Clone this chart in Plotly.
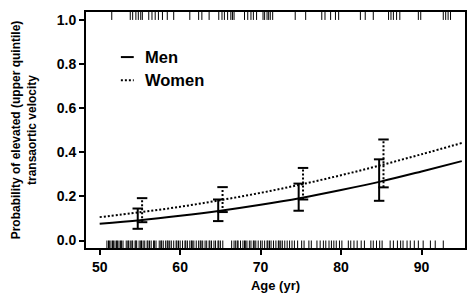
import plotly.graph_objects as go

# ---------------- data ----------------
curve_age = [50, 55, 60, 65, 70, 75, 80, 85, 90, 95]
men_prob = [0.076, 0.092, 0.112, 0.135, 0.162, 0.193, 0.229, 0.268, 0.313, 0.360]
women_prob = [0.106, 0.128, 0.153, 0.183, 0.216, 0.254, 0.296, 0.342, 0.391, 0.442]

group_age = [55, 65, 75, 85]
men_lower = [0.053, 0.088, 0.135, 0.180]
men_upper = [0.145, 0.186, 0.258, 0.368]
women_lower = [0.083, 0.129, 0.186, 0.241]
women_upper = [0.192, 0.242, 0.329, 0.458]

# observed ages with elevated velocity (top rug) / not elevated (bottom rug)
rug_top = [51.5, 53.8, 54.1, 54.5, 54.8, 55.1, 55.3, 56.1, 56.5, 56.9, 57.3, 57.8,
           58.4, 59.2, 61.2, 62.3, 62.7, 63.6, 64.8, 65.2, 65.5, 65.9, 66.3, 66.5,
           66.7, 68.0, 68.4, 68.8, 69.1, 69.5, 70.3, 70.5, 70.8, 71.0, 71.2, 71.5,
           74.3, 75.6, 77.6, 78.0, 78.7, 79.3, 79.7, 82.4, 83.0, 84.0, 85.9, 86.2,
           86.5, 86.9, 87.3, 89.6, 89.9, 92.7, 93.0, 93.3, 93.6]
rug_bottom = [50.9, 51.1, 51.2, 51.4, 51.6, 51.7, 51.9, 52.1, 52.2, 52.4, 52.6, 52.7,
              52.9, 53.3, 53.5, 53.6, 53.8, 54.0, 54.1, 54.4, 54.5, 54.6, 54.9, 55.1,
              55.2, 55.4, 55.6, 55.9, 56.0, 56.2, 56.4, 56.7, 56.8, 57.0, 57.4, 57.6,
              57.7, 57.9, 58.2, 58.4, 58.5, 58.7, 58.9, 59.2, 59.5, 59.6, 59.8, 60.0,
              60.3, 60.6, 60.7, 60.9, 61.2, 61.4, 61.5, 61.7, 62.0, 62.3, 62.5, 62.6,
              62.8, 63.1, 63.3, 63.6, 63.7, 63.9, 64.2, 64.4, 64.7, 64.8, 65.0, 65.3,
              66.4, 66.7, 66.9, 67.1, 67.2, 67.5, 67.8, 68.0, 68.1, 68.3, 68.6, 68.8,
              69.1, 69.2, 69.4, 69.7, 70.0, 70.2, 70.5, 70.8, 70.9, 71.1, 71.3, 71.6,
              71.9, 72.2, 72.3, 72.5, 72.7, 73.0, 73.3, 73.6, 73.9, 74.2, 74.6, 75.1,
              75.4, 76.0, 76.3, 77.0, 77.4, 77.8, 78.1, 78.5, 78.8, 79.1, 79.4, 79.8,
              80.1, 80.9, 81.2, 81.6, 82.0, 82.5, 82.9, 83.7, 84.0, 84.4, 84.8, 85.1,
              86.1, 86.5, 87.0, 87.4, 87.7, 88.2, 88.6, 89.1, 89.6, 90.2, 91.1, 91.7,
              92.7]

x_ticks = [50, 60, 70, 80, 90]
y_ticks = [0.0, 0.2, 0.4, 0.6, 0.8, 1.0]
legend_labels = ["Men", "Women"]

# ---------------- styles ----------------
FONT = "Liberation Sans, Arial, sans-serif"
DODGE = 0.27
CAP = 0.65
Y_RANGE = [-0.034, 1.036]
X_RANGE = [48.3, 95.4]

fig = go.Figure()

# rugs
def rug_xy(ages, y0, y1):
    xs, ys = [], []
    for a in ages:
        xs += [a, a, None]
        ys += [y0, y1, None]
    return xs, ys

for ages, y0, y1 in [(rug_top, 1.0, Y_RANGE[1]), (rug_bottom, 0.0, Y_RANGE[0])]:
    xs, ys = rug_xy(ages, y0, y1)
    fig.add_trace(go.Scatter(x=xs, y=ys, mode="lines",
                             line=dict(color="black", width=1),
                             hoverinfo="skip", showlegend=False))

# curves
fig.add_trace(go.Scatter(x=curve_age, y=men_prob, mode="lines", name="Men",
                         line=dict(color="black", width=2, shape="spline"),
                         showlegend=False))
fig.add_trace(go.Scatter(x=curve_age, y=women_prob, mode="lines", name="Women",
                         line=dict(color="black", width=2, dash="2px,2px", shape="spline"),
                         showlegend=False))

# error bars
def bars(offset, lo, hi):
    vx, vy, cx, cy = [], [], [], []
    for a, l, h in zip(group_age, lo, hi):
        x = a + offset
        vx += [x, x, None]
        vy += [l, h, None]
        for v in (l, h):
            cx += [x - CAP, x + CAP, None]
            cy += [v, v, None]
    return vx, vy, cx, cy

for off, lo, hi, dash in [(-DODGE, men_lower, men_upper, "solid"),
                          (DODGE, women_lower, women_upper, "2px,2px")]:
    vx, vy, cx, cy = bars(off, lo, hi)
    fig.add_trace(go.Scatter(x=vx, y=vy, mode="lines",
                             line=dict(color="black", width=2, dash=dash),
                             hoverinfo="skip", showlegend=False))
    fig.add_trace(go.Scatter(x=cx, y=cy, mode="lines",
                             line=dict(color="black", width=2),
                             hoverinfo="skip", showlegend=False))

# manual legend
leg_y = [0.809, 0.711]
leg_dash = ["solid", "2px,2px"]
for lab, yy, d in zip(legend_labels, leg_y, leg_dash):
    fig.add_shape(type="line", xref="paper", yref="paper",
                  x0=0.092, x1=0.126, y0=yy, y1=yy,
                  line=dict(color="black", width=2, dash=d))
    fig.add_annotation(text=lab, xref="paper", yref="paper", x=0.150, y=yy,
                       xanchor="left", yanchor="middle", showarrow=False,
                       font=dict(family=FONT, size=16.5, color="black", weight="bold"))

axis_common = dict(showgrid=False, zeroline=False, showline=True, linecolor="black",
                   linewidth=2, mirror=True, ticks="outside", ticklen=5, tickwidth=2,
                   tickcolor="black",
                   tickfont=dict(family=FONT, size=14, color="black", weight="bold"))

fig.update_xaxes(range=X_RANGE, tickvals=x_ticks, **axis_common,
                 title=dict(text="Age (yr)", standoff=7,
                            font=dict(family=FONT, size=13, color="black", weight="bold")))
fig.update_yaxes(range=Y_RANGE, tickvals=y_ticks, tickformat=".1f", **axis_common,
                 title=dict(text="Probability of elevated (upper quintile)<br>transaortic velocity",
                            standoff=18,
                            font=dict(family=FONT, size=12, color="black", weight="bold")))

fig.update_layout(width=474, height=302, margin=dict(l=86, r=7, t=12, b=54),
                  plot_bgcolor="white", paper_bgcolor="white", showlegend=False)

fig.write_html("out.html")
